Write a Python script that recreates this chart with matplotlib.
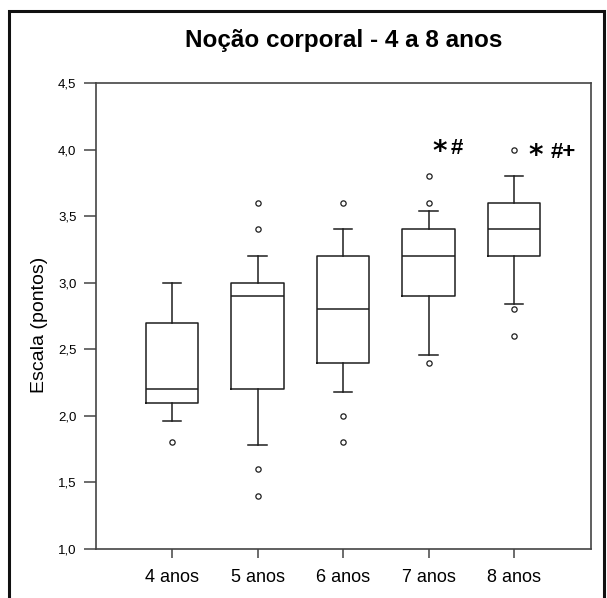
import matplotlib
matplotlib.use("Agg")
from matplotlib import pyplot as plt
from matplotlib.patches import Rectangle

plt.rcParams['font.family'] = ['Liberation Sans', 'DejaVu Sans']

# data
groups = ['4 anos', '5 anos', '6 anos', '7 anos', '8 anos']
whislo = [1.96, 1.78, 2.18, 2.46, 2.84]
q1 = [2.1, 2.2, 2.4, 2.9, 3.2]
med = [2.2, 2.9, 2.8, 3.2, 3.4]
q3 = [2.7, 3.0, 3.2, 3.4, 3.6]
whishi = [3.0, 3.2, 3.4, 3.54, 3.8]
fliers = [[1.8], [1.4, 1.6, 3.4, 3.6], [1.8, 2.0, 3.6], [2.4, 3.6, 3.8], [2.6, 2.8, 4.0]]
yticks = [1.0, 1.5, 2.0, 2.5, 3.0, 3.5, 4.0, 4.5]
ytick_labels = ['1,0', '1,5', '2,0', '2,5', '3,0', '3,5', '4,0', '4,5']
# significance marks: asterisk + the rest, drawn next to each other
mark_star = ['*', '*']
mark_rest = ['#', '#+']
star_x = [4.134, 5.257]
rest_x = [4.333, 5.574]
mark_y = [4.018, 3.988]

stats = []
for i, g in enumerate(groups):
	stats.append(dict(label=g, whislo=whislo[i], q1=q1[i], med=med[i],
					  q3=q3[i], whishi=whishi[i], fliers=fliers[i]))

col = '#1e1e1e'
fig = plt.figure(figsize=(6.07, 5.98), dpi=100)
ax = fig.add_axes([96/607, 1 - 549/598, (591-96)/607, (549-83)/598])

ax.bxp(stats, positions=range(1, 6), widths=0.61, capwidths=0.22,
	   boxprops=dict(color=col, lw=1.1),
	   medianprops=dict(color=col, lw=1.1),
	   whiskerprops=dict(color=col, lw=1.1),
	   capprops=dict(color=col, lw=1.1),
	   flierprops=dict(marker='o', markersize=3.8, markerfacecolor='white',
					   markeredgecolor=col, markeredgewidth=0.9))

ax.set_xlim(0.111, 5.9)
ax.set_ylim(1.0, 4.5)
ax.set_yticks(yticks)
ax.set_yticklabels(ytick_labels, fontsize=9.5)
ax.set_xticks(range(1, 6))
ax.set_xticklabels(groups, fontsize=13)
ax.tick_params(axis='y', length=9, width=1.1, color='#444', pad=5)
ax.tick_params(axis='x', length=6.5, width=1.1, color='#444', pad=8)
for s in ax.spines.values():
	s.set_color('#444')
	s.set_linewidth(1.2)

ax.set_ylabel('Escala (pontos)', fontsize=14)
ax.yaxis.set_label_coords(-0.097, 0.48)

for i in range(len(mark_star)):
	ax.text(star_x[i], mark_y[i] - 0.035, mark_star[i], fontsize=20,
			fontweight='bold', ha='center', va='center', family=['DejaVu Sans'])
	ax.text(rest_x[i], mark_y[i] - 0.012, mark_rest[i], fontsize=16,
			fontweight='bold', ha='center', va='center')

fig.text(344/607, 1 - 40/598, 'Noção corporal - 4 a 8 anos', fontsize=17.5,
		 fontweight='bold', ha='center', va='center')

fig.add_artist(Rectangle((9/607, -0.02), 595/607, 1 - 11/598 + 0.02,
						 transform=fig.transFigure, fill=False, lw=2.2,
						 edgecolor='#111'))

fig.savefig('out.png', dpi=100)
